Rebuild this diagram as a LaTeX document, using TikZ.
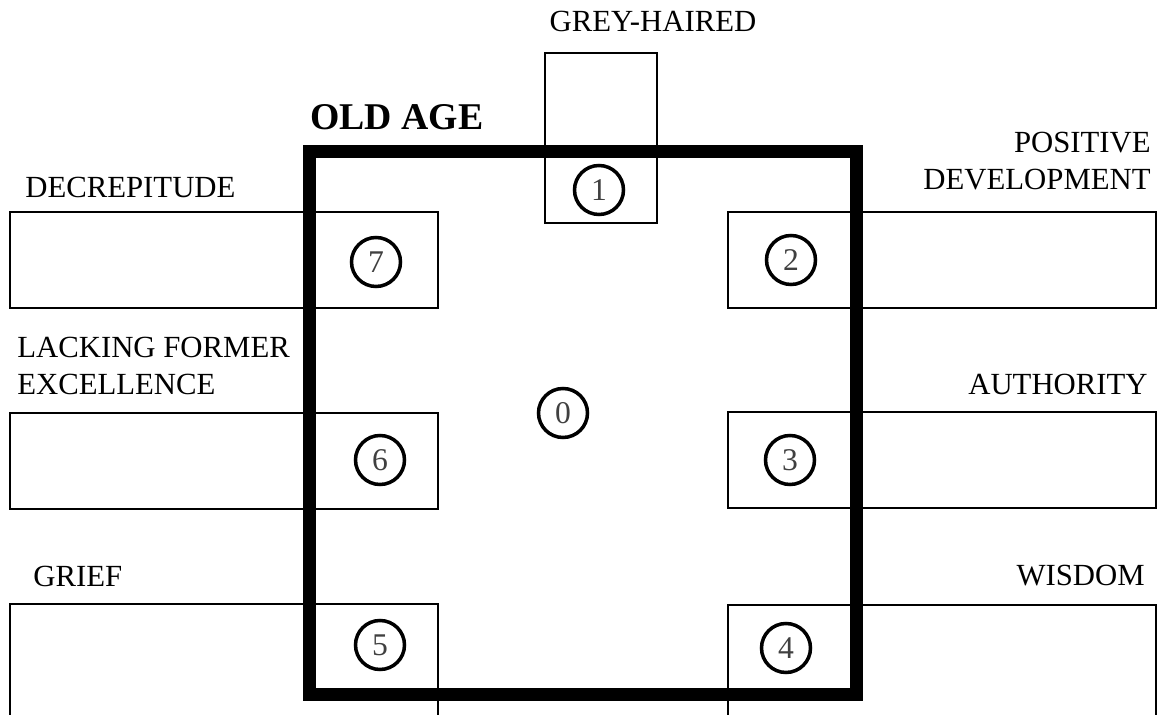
\documentclass[tikz,border=0pt]{standalone}
\usepackage{fontspec}
\setmainfont{Liberation Serif}
\usetikzlibrary{positioning}

\begin{document}
\begin{tikzpicture}[
    x=0.02cm, y=-0.02cm,
    slot/.style={draw, line width=1.1pt, inner sep=0pt, minimum width=8.57cm, minimum height=1.92cm},
    num/.style={circle, draw, line width=2pt, inner sep=0pt, minimum size=0.98cm, text=black!75, font=\fontsize{18}{18}\selectfont},
    lbl/.style={inner sep=0pt, font=\fontsize{17.5}{21}\selectfont},
    frame/.style={draw, line width=7.4pt, inner sep=0pt, minimum width=10.96cm, minimum height=10.88cm}
]
\useasboundingbox (0,0) rectangle (1161,715);
\clip (0,0) rectangle (1161,715);

% side slots
\node[slot, minimum width=2.24cm, minimum height=3.4cm] (top) at (601,138) {};
\node[slot] (decr) at (224,260) {};
\node[slot] (lack) at (224,461) {};
\node[slot, minimum height=4cm] (grief) at (224,704) {};
\node[slot] (posdev) at (942,260) {};
\node[slot] (auth) at (942,460) {};
\node[slot, minimum height=4cm] (wisdom) at (942,705) {};

% old age frame
\node[frame] (oldage) at (583,423) {};

% numbers
\node[num] (n0) at (563,413) {0};
\node[num] (n1) at (599,190) {1};
\node[num] (n2) at (791,260) {2};
\node[num] (n3) at (790,460) {3};
\node[num] (n4) at (786,648) {4};
\node[num] (n5) at (380,645) {5};
\node[num] (n6) at (380,460) {6};
\node[num] (n7) at (376,262) {7};

% labels
\node[lbl, anchor=base] (tgrey) at (653,32) {GREY-HAIRED};
\node[lbl, anchor=base west, font=\bfseries\fontsize{21.5}{24}\selectfont] (told) at (310,130) {OLD AGE};
\node[lbl, anchor=base west] (tdecr) at (25,198) {DECREPITUDE};
\node[lbl, anchor=north west, align=left] (tlack) at (17,337) {LACKING FORMER\\EXCELLENCE};
\node[lbl, anchor=base west] (tgrief) at (33,587) {GRIEF};
\node[lbl, anchor=north east, align=right] (tpos) at (1151,132) {POSITIVE\\DEVELOPMENT};
\node[lbl, anchor=base east] (tauth) at (1148,395) {AUTHORITY};
\node[lbl, anchor=base east] (twis) at (1145,586) {WISDOM};
\end{tikzpicture}
\end{document}
